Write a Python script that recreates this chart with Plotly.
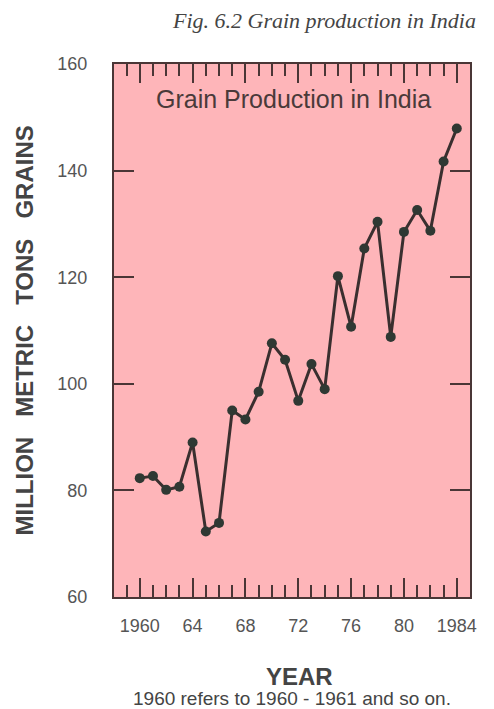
import plotly.graph_objects as go

years = list(range(1960, 1985))
grain = [82.3, 82.7, 80.1, 80.7, 89.0, 72.3, 73.9, 95.0, 93.3, 98.5,
         107.6, 104.5, 96.8, 103.7, 99.0, 120.2, 110.7, 125.4, 130.4, 108.8,
         128.5, 132.6, 128.7, 141.7, 147.9]
x_tickvals = [1960, 1964, 1968, 1972, 1976, 1980, 1984]
x_ticktext = ["1960", "64", "68", "72", "76", "80", "1984"]
y_tickvals = [60, 80, 100, 120, 140, 160]

fig = go.Figure()
fig.add_trace(go.Scatter(
    x=years, y=grain, mode="lines+markers",
    line=dict(color="#3a2f2f", width=3),
    marker=dict(color="#2f3833", size=10),
    showlegend=False,
))

frame = "#4a3636"
gap = "&nbsp;&nbsp;&nbsp;"
fig.update_layout(
    width=486, height=701,
    margin=dict(l=106, r=24, t=56, b=112),
    paper_bgcolor="white",
    plot_bgcolor="#FEB5B9",
    font=dict(family="Liberation Sans", color="#555555"),
    xaxis=dict(
        range=[1958.05, 1985.0],
        tickvals=x_tickvals, ticktext=x_ticktext,
        ticks="inside", ticklen=19, tickwidth=2, tickcolor=frame,
        minor=dict(dtick=1, tick0=1960, ticks="inside", ticklen=12, tickwidth=2, tickcolor=frame),
        showline=True, linecolor=frame, linewidth=2, mirror="ticks",
        showgrid=False, zeroline=False,
        tickfont=dict(size=18, color="#555555"),
        ticklabelstandoff=11,
    ),
    yaxis=dict(
        range=[60, 160],
        tickvals=y_tickvals,
        ticks="inside", ticklen=20, tickwidth=2, tickcolor=frame,
        showline=True, linecolor=frame, linewidth=2, mirror="ticks",
        showgrid=False, zeroline=False,
        tickfont=dict(size=18, color="#555555"),
        ticklabelstandoff=21,
    ),
    annotations=[
        dict(text="<b>MILLION" + gap + "METRIC" + gap + "TONS" + gap + "GRAINS</b>",
             xref="paper", yref="paper", x=0, y=0.5, xshift=-90,
             xanchor="center", yanchor="middle", textangle=-90, showarrow=False,
             font=dict(size=24, color="#444444")),
        dict(text="<i>Fig. 6.2 Grain production in India</i>",
             xref="paper", yref="paper", x=1.0, y=1.0, xshift=8, yshift=44,
             xanchor="right", yanchor="middle", showarrow=False,
             font=dict(family="Liberation Serif", size=22, color="#444444")),
        dict(text="Grain Production in India",
             xref="paper", yref="paper", x=0.5, y=1.0, xshift=1, yshift=-35,
             xanchor="center", yanchor="middle", showarrow=False,
             font=dict(size=25, color="#4a3a3a")),
        dict(text="<b>YEAR</b>",
             xref="paper", yref="paper", x=0.5, y=0, xshift=7, yshift=-79,
             xanchor="center", yanchor="middle", showarrow=False,
             font=dict(size=24, color="#444444")),
        dict(text="1960 refers to 1960 - 1961 and so on.",
             xref="paper", yref="paper", x=0.5, y=0, yshift=-101,
             xanchor="center", yanchor="middle", showarrow=False,
             font=dict(size=19, color="#444444")),
    ],
)

fig.write_html("out.html")
